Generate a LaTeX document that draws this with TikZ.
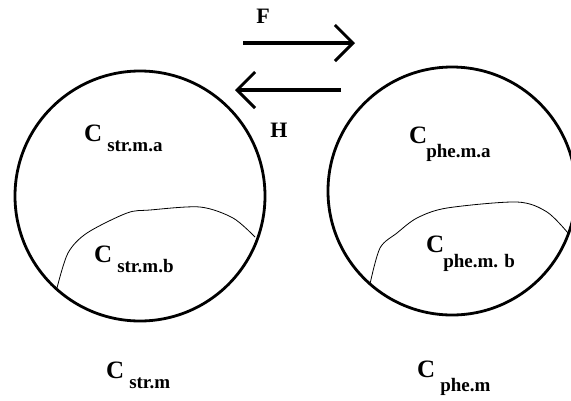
\documentclass[tikz,border=0pt]{standalone}
\usepackage{fontspec}
\setmainfont{Liberation Serif}
\usetikzlibrary{arrows.meta}
\newcommand{\conc}[3]{{\fontsize{25}{25}\selectfont C}\hspace{#2pt}\raisebox{-#1pt}{\fontsize{19}{19}\selectfont #3}}
\tikzset{
    font=\bfseries,
    % Shapes
    cell/.style={draw=black, line width=2.8pt},
    part/.style={draw=black, line width=0.8pt},
    % Flow & Labels
    flow/.style={line width=3.4pt, -{Straight Barb[length=18pt, width=36pt, line width=3pt]}},
    lbl/.style={inner sep=0pt, anchor=base west},
    flbl/.style={inner sep=0pt, font=\fontsize{22}{22}\selectfont\bfseries}
}
\begin{document}
\begin{tikzpicture}[x=1pt, y=-1pt]
\clip (0,0) rectangle (571,400);

% cells
\draw[cell] (140,196) circle (125);
\draw[cell] (452,191) circle (124);
\draw[part] plot[smooth] coordinates {(57,288) (68,253) (87,233) (127,213) (150,210) (200,207) (233,218) (255,237)};
\draw[part] plot[smooth] coordinates {(370,284) (380,248) (397,233) (417,218) (447,208) (517,202) (547,212) (568,233)};

% labels
\node[lbl] (sma) at (84,141) {\conc{10}{5}{str.m.a}};
\node[lbl] (smb) at (94,262) {\conc{10}{5}{str.m.b}};
\node[lbl] (sm) at (106,378) {\conc{10}{5}{str.m}};
\node[lbl] (pma) at (409,143) {\conc{14}{-1}{phe.m.a}};
\node[lbl] (pmb) at (426,252) {\conc{15}{-1}{phe.m. b}};
\node[lbl] (pm) at (417,377) {\conc{14}{5}{phe.m}};

% fluxes
\coordinate (fs) at (243,43);
\coordinate (fe) at (355,43);
\coordinate (hs) at (341,90);
\coordinate (he) at (235,90);
\node[flbl] (f) at (263,16) {F};
\node[flbl] (h) at (279,130) {H};
\draw[flow] (fs) -- (fe);
\draw[flow] (hs) -- (he);

\end{tikzpicture}
\end{document}
